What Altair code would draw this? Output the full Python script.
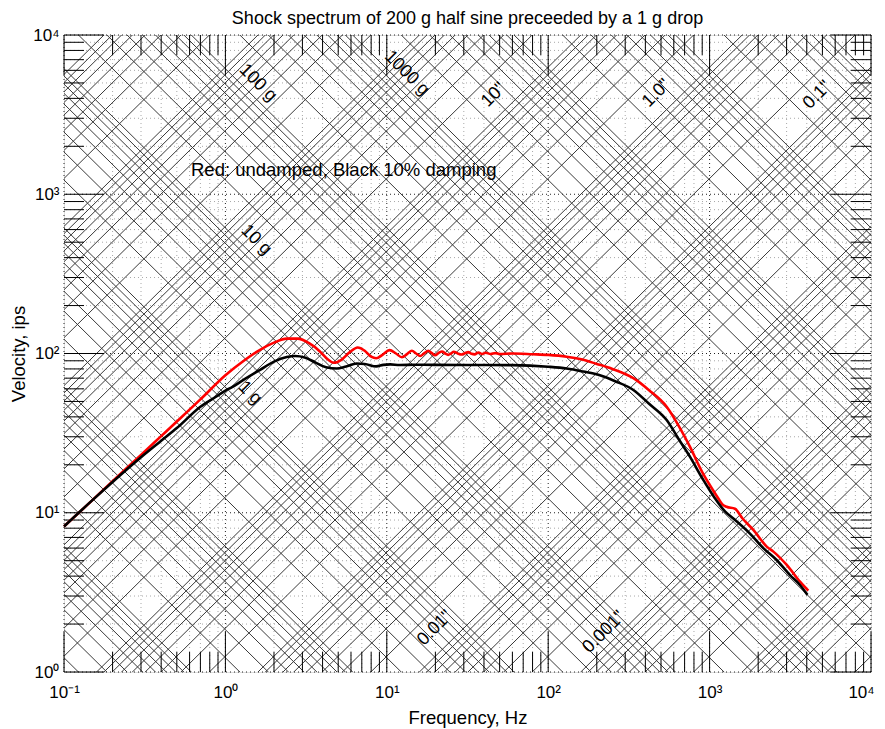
import altair as alt
import pandas as pd
import numpy as np

FONT = "Liberation Sans"
G_IPS2 = 386.09  # in/s^2 per g

TITLE = "Shock spectrum of 200 g half sine preceeded by a 1 g drop"
NOTE = "Red: undamped, Black 10% damping"

# ---- response spectra ----
red_f = [0.1, 0.15, 0.2, 0.3, 0.4, 0.5, 0.7, 1.0, 1.3, 1.6, 2.0, 2.4, 2.8, 3.3, 3.85,
         4.3, 4.7, 5.2, 5.9, 6.6, 7.3, 8.0, 8.6, 9.4, 10.4, 11.4, 12.4, 13.4, 14.3,
         15.2, 16.1, 17.1, 18.1, 19.0, 19.9, 21.0, 22.0, 23.0, 24.0, 25.0, 26.0,
         27.5, 29.0, 30.5, 32.0, 33.5, 35.0, 37.0, 39.0, 41.0, 44.0, 47.0, 50.0,
         60.0, 80.0, 100, 130, 160, 200, 250, 337, 420, 542, 650, 755, 900, 1000,
         1133, 1200, 1274, 1436, 1600, 1866, 2259, 2484, 3006, 3631, 4090]
red_v = [8.2, 12.0, 15.8, 23.1, 30.3, 37.4, 51.5, 73, 90, 104, 117, 124, 124, 116, 103,
         92, 87.5, 91, 102, 109, 104, 95.5, 93.3, 98, 105, 100, 94.7, 99.5, 104,
         100, 96.4, 100.5, 104, 100.5, 97.5, 101, 103, 100, 98, 100, 102.5,
         100, 98.5, 100.5, 102, 99.5, 98.8, 101.5, 99.2, 101, 99.3, 100.6, 99.3,
         100, 99, 98, 95.5, 92, 86, 80, 70, 59, 46.3, 34.5, 26, 18, 15,
         12.3, 11.3, 10.9, 10.6, 9.2, 7.8, 6.13, 5.7, 4.7, 3.69, 3.24]

black_f = [0.1, 0.15, 0.2, 0.3, 0.4, 0.5, 0.7, 0.9, 1.0, 1.1, 1.3, 1.64, 2.0, 2.4, 2.7,
           3.1, 3.6, 4.2, 4.9, 5.6, 6.5, 7.3, 8.6, 9.5, 10.5, 12, 15, 20, 30, 60,
           100, 130, 165, 209, 260, 337, 420, 542, 650, 755, 900, 1081, 1245, 1403,
           1778, 2151, 2602, 3148, 3631, 4037]
black_v = [8.2, 12.0, 15.6, 22.3, 28.3, 34, 46.3, 54.5, 58.5, 61.5, 68.5, 79, 89, 95, 96.5,
           94.5, 88, 82, 80.5, 83, 86.5, 86, 83, 84.8, 85.5, 84.6, 85, 84.8, 84.7, 84.5,
           82.6, 80.5, 77, 73, 67, 59, 48.5, 38.2, 28.5, 22.5, 16.5, 12.3, 10.2, 9.2,
           7.4, 6.0, 5.05, 4.06, 3.52, 3.05]

# ---- axes ----
x_major = [0.1, 1, 10, 100, 1000, 10000]
y_major = [1, 10, 100, 1000, 10000]
x_decades = [-1, 0, 1, 2, 3]
y_decades = [0, 1, 2, 3]
minor_mult = [2, 3, 4, 5, 6, 7, 8, 9]

# ---- tripartite grid ----
accel_decades = [-3, -2, -1, 0, 1, 2, 3, 4, 5]   # g
disp_decades = [-5, -4, -3, -2, -1, 0, 1, 2, 3]  # inches
line_mult = [1, 2, 3, 4, 5, 6, 7, 8, 9]
f_ends = [0.1, 10000]

g_text = ["100 g", "1000 g", "10 g", "1 g"]
g_f = [1.59, 13.3, 1.55, 1.42]
g_v = [5000, 5750, 516, 56.5]

d_text = ['10"', '1.0"', '0.1"', '0.01"', '0.001"']
d_f = [46.1, 470, 4656, 19.9, 221.7]
d_v = [4200, 4305, 4200, 1.89, 1.78]

note_f = [0.612]
note_v = [1419]

W, H = 807, 637
xs = alt.Scale(type="log", domain=[0.1, 10000], nice=False)
ys = alt.Scale(type="log", domain=[1, 10000], nice=False)

sup = {-1: "⁻¹", 0: "⁰", 1: "¹", 2: "²", 3: "³", 4: "⁴"}
def label_expr(exps):
    e = "round(log(datum.value)/LN10)"
    s = "''"
    for k in reversed(exps):
        s = f"({e} == {k} ? '{sup[k]}' : {s})"
    return "'10' + " + s

XAX = alt.Axis(values=x_major, labelExpr=label_expr([-1, 0, 1, 2, 3, 4]),
               ticks=False, grid=False, domain=False, labelFlush=False,
               labelOverlap=False, labelFontSize=17, labelFont=FONT,
               labelColor="black", labelPadding=12, titleFont=FONT,
               labelOffset={"condition": {"test": "datum.value >= 5000", "value": -10}, "value": 0},
               titleFontSize=18.5, titleFontWeight="normal", titleColor="black",
               titlePadding=8)
YAX = alt.Axis(values=y_major, labelExpr=label_expr([0, 1, 2, 3, 4]),
               ticks=False, grid=False, domain=False, labelFlush=False,
               labelOverlap=False, labelFontSize=17, labelFont=FONT,
               labelColor="black", labelPadding=5, titleFont=FONT,
               titleFontSize=18.5, titleFontWeight="normal", titleColor="black",
               titlePadding=4)

def X():
    return alt.X("f:Q", scale=xs, axis=XAX, title="Frequency, Hz")

def Y():
    return alt.Y("v:Q", scale=ys, axis=YAX, title="Velocity, ips")

# grid line data
rows = []
lid = 0
for d in accel_decades:
    for m in line_mult:
        A = m * 10.0 ** d
        for f in f_ends:
            rows.append({"id": lid, "f": f, "v": A * G_IPS2 / (2 * np.pi * f)})
        lid += 1
for d in disp_decades:
    for m in line_mult:
        D = m * 10.0 ** d
        for f in f_ends:
            rows.append({"id": lid, "f": f, "v": 2 * np.pi * f * D})
        lid += 1
diag = pd.DataFrame(rows)

x_minor = [m * 10.0 ** d for d in x_decades for m in minor_mult]
y_minor = [m * 10.0 ** d for d in y_decades for m in minor_mult]

dxmaj = pd.DataFrame({"f": x_major})
dxmin = pd.DataFrame({"f": x_minor})
dymaj = pd.DataFrame({"v": y_major})
dymin = pd.DataFrame({"v": y_minor})

curves = pd.concat([
    pd.DataFrame({"f": red_f, "v": red_v, "s": "undamped"}),
    pd.DataFrame({"f": black_f, "v": black_v, "s": "damped"}),
])

grid_minor_x = alt.Chart(dxmin).mark_rule(color="#a8a8a8", strokeDash=[1, 3], strokeWidth=1).encode(x=X())
grid_major_x = alt.Chart(dxmaj).mark_rule(color="#222222", strokeDash=[1, 3], strokeWidth=1).encode(x=X())
grid_minor_y = alt.Chart(dymin).mark_rule(color="#a8a8a8", strokeDash=[1, 3], strokeWidth=1).encode(y=Y())
grid_major_y = alt.Chart(dymaj).mark_rule(color="#222222", strokeDash=[1, 3], strokeWidth=1).encode(y=Y())

diag_lines = alt.Chart(diag).mark_line(color="#3a3a3a", strokeWidth=1, clip=True).encode(
    x=X(), y=Y(), detail="id:N", order="f:Q")

tick_style = dict(color="black", strokeWidth=1)
ticks = [
    alt.Chart(dxmin).mark_rule(**tick_style).encode(x=X(), y=alt.value(H), y2=alt.value(H - 20)),
    alt.Chart(dxmin).mark_rule(**tick_style).encode(x=X(), y=alt.value(0), y2=alt.value(20)),
    alt.Chart(dxmaj).mark_rule(**tick_style).encode(x=X(), y=alt.value(H), y2=alt.value(H - 40)),
    alt.Chart(dxmaj).mark_rule(**tick_style).encode(x=X(), y=alt.value(0), y2=alt.value(40)),
    alt.Chart(dymin).mark_rule(**tick_style).encode(y=Y(), x=alt.value(0), x2=alt.value(20)),
    alt.Chart(dymin).mark_rule(**tick_style).encode(y=Y(), x=alt.value(W - 20), x2=alt.value(W)),
    alt.Chart(dymaj).mark_rule(**tick_style).encode(y=Y(), x=alt.value(0), x2=alt.value(40)),
    alt.Chart(dymaj).mark_rule(**tick_style).encode(y=Y(), x=alt.value(W - 40), x2=alt.value(W)),
]

g_lab = alt.Chart(pd.DataFrame({"t": g_text, "f": g_f, "v": g_v})).mark_text(
    angle=45, fontSize=18, font=FONT, color="black").encode(x=X(), y=Y(), text="t:N")
d_lab = alt.Chart(pd.DataFrame({"t": d_text, "f": d_f, "v": d_v})).mark_text(
    angle=315, fontSize=18, font=FONT, color="black").encode(x=X(), y=Y(), text="t:N")
note = alt.Chart(pd.DataFrame({"t": [NOTE], "f": note_f, "v": note_v})).mark_text(
    align="left", baseline="middle", fontSize=18.5, font=FONT, color="black").encode(
    x=X(), y=Y(), text="t:N")

curve_layer = alt.Chart(curves).mark_line(strokeWidth=2.6, interpolate="monotone").encode(
    x=X(), y=Y(),
    color=alt.Color("s:N", scale=alt.Scale(domain=["undamped", "damped"],
                                           range=["#ff0000", "#000000"]), legend=None),
    detail="s:N",
    order=alt.Order("f:Q"),
)

chart = alt.layer(
    grid_minor_x, grid_minor_y, grid_major_x, grid_major_y, diag_lines, *ticks,
    g_lab, d_lab, note, curve_layer,
).properties(
    width=W, height=H,
    title=alt.Title(TITLE, fontSize=18, fontWeight="normal", font=FONT, color="black",
                    anchor="middle", offset=-2),
    padding={"left": 56, "top": 27, "right": 6, "bottom": 57},
    autosize=alt.AutoSizeParams(type="none"),
).configure_view(stroke="black", strokeWidth=1).configure(background="white")

chart.save("out.html", embed_options={"renderer": "svg", "actions": False})
